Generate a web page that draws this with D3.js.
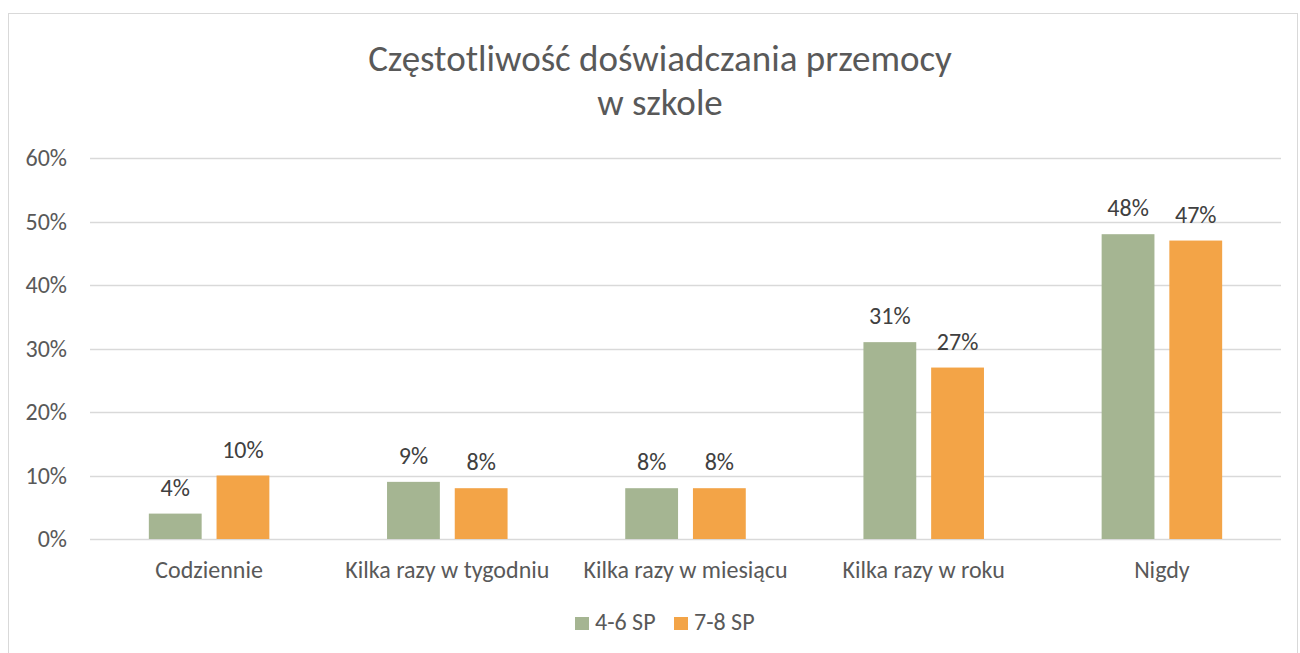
<!DOCTYPE html>
<html>
<head>
<meta charset="utf-8">
<script src="https://cdn.jsdelivr.net/npm/d3@7"></script>
<style>
  body { margin: 0; background: #fff; }
  #chart { width: 1300px; height: 653px; }
</style>
</head>
<body>
<div id="chart"></div>
<script>
const categories = ["Codziennie", "Kilka razy w tygodniu", "Kilka razy w miesiącu", "Kilka razy w roku", "Nigdy"];
const seriesNames = ["4-6 SP", "7-8 SP"];
const values46 = [4, 9, 8, 31, 48];
const values78 = [10, 8, 8, 27, 47];
const yTicks = [0, 10, 20, 30, 40, 50, 60];
const titleLines = ["Częstotliwość doświadczania przemocy", "w szkole"];

const colors = { "4-6 SP": "#a5b592", "7-8 SP": "#f3a447" };
const font = "Calibri, Carlito, 'Open Sans', sans-serif";

const width = 1300, height = 653;
const plot = { left: 90, right: 1281, top: 158, bottom: 539 };

const svg = d3.select("#chart").append("svg")
    .attr("width", width)
    .attr("height", height);

// outer chart border
svg.append("rect")
    .attr("x", 8.5).attr("y", 13.5)
    .attr("width", 1289).attr("height", 660)
    .attr("fill", "#fff")
    .attr("stroke", "#d9d9d9");

// title
svg.append("g").selectAll("text")
    .data(titleLines)
    .enter().append("text")
    .attr("x", 660)
    .attr("y", (d, i) => 71 + i * 44)
    .attr("text-anchor", "middle")
    .style("font-family", font)
    .style("font-size", "37px")
    .attr("fill", "#595959")
    .text(d => d);

const y = d3.scaleLinear().domain([0, 60]).range([plot.bottom, plot.top]);
const x0 = d3.scaleBand().domain(categories).range([plot.left, plot.right]);
const bw = x0.bandwidth();
const x1 = d3.scaleBand().domain(seriesNames)
    .range([bw * 0.247, bw * 0.753])
    .paddingInner(0.22);

// gridlines
svg.append("g").selectAll("line")
    .data(yTicks)
    .enter().append("line")
    .attr("x1", plot.left).attr("x2", plot.right)
    .attr("y1", d => Math.round(y(d)) + 0.5)
    .attr("y2", d => Math.round(y(d)) + 0.5)
    .attr("stroke", "#d9d9d9")
    .attr("stroke-width", 1.3);

// y axis labels
svg.append("g").selectAll("text")
    .data(yTicks)
    .enter().append("text")
    .attr("x", 67)
    .attr("y", d => y(d) + 8)
    .attr("text-anchor", "end")
    .style("font-family", font)
    .style("font-size", "24px")
    .attr("fill", "#595959")
    .text(d => d + "%");

const rows = categories.map((c, i) => ({
    cat: c,
    vals: [
        { name: seriesNames[0], value: values46[i] },
        { name: seriesNames[1], value: values78[i] }
    ]
}));

const groups = svg.append("g").selectAll("g")
    .data(rows)
    .enter().append("g")
    .attr("transform", d => "translate(" + x0(d.cat) + ",0)");

groups.selectAll("rect")
    .data(d => d.vals)
    .enter().append("rect")
    .attr("x", d => x1(d.name))
    .attr("y", d => y(d.value))
    .attr("width", x1.bandwidth())
    .attr("height", d => y(0) - y(d.value))
    .attr("fill", d => colors[d.name]);

groups.selectAll("text")
    .data(d => d.vals)
    .enter().append("text")
    .attr("x", d => x1(d.name) + x1.bandwidth() / 2)
    .attr("y", d => y(d.value) - 18)
    .attr("text-anchor", "middle")
    .style("font-family", font)
    .style("font-size", "24px")
    .attr("fill", "#404040")
    .text(d => d.value + "%");

// category labels
svg.append("g").selectAll("text")
    .data(categories)
    .enter().append("text")
    .attr("x", d => x0(d) + bw / 2)
    .attr("y", 578)
    .attr("text-anchor", "middle")
    .style("font-family", font)
    .style("font-size", "24px")
    .attr("fill", "#595959")
    .text(d => d);

// legend
const legendX = [575, 674];
const legend = svg.append("g").selectAll("g")
    .data(seriesNames)
    .enter().append("g")
    .attr("transform", (d, i) => "translate(" + legendX[i] + ",617)");

legend.append("rect")
    .attr("width", 14).attr("height", 13)
    .attr("fill", d => colors[d]);

legend.append("text")
    .attr("x", 20)
    .attr("y", 13)
    .style("font-family", font)
    .style("font-size", "24px")
    .attr("fill", "#595959")
    .text(d => d);
</script>
</body>
</html>
